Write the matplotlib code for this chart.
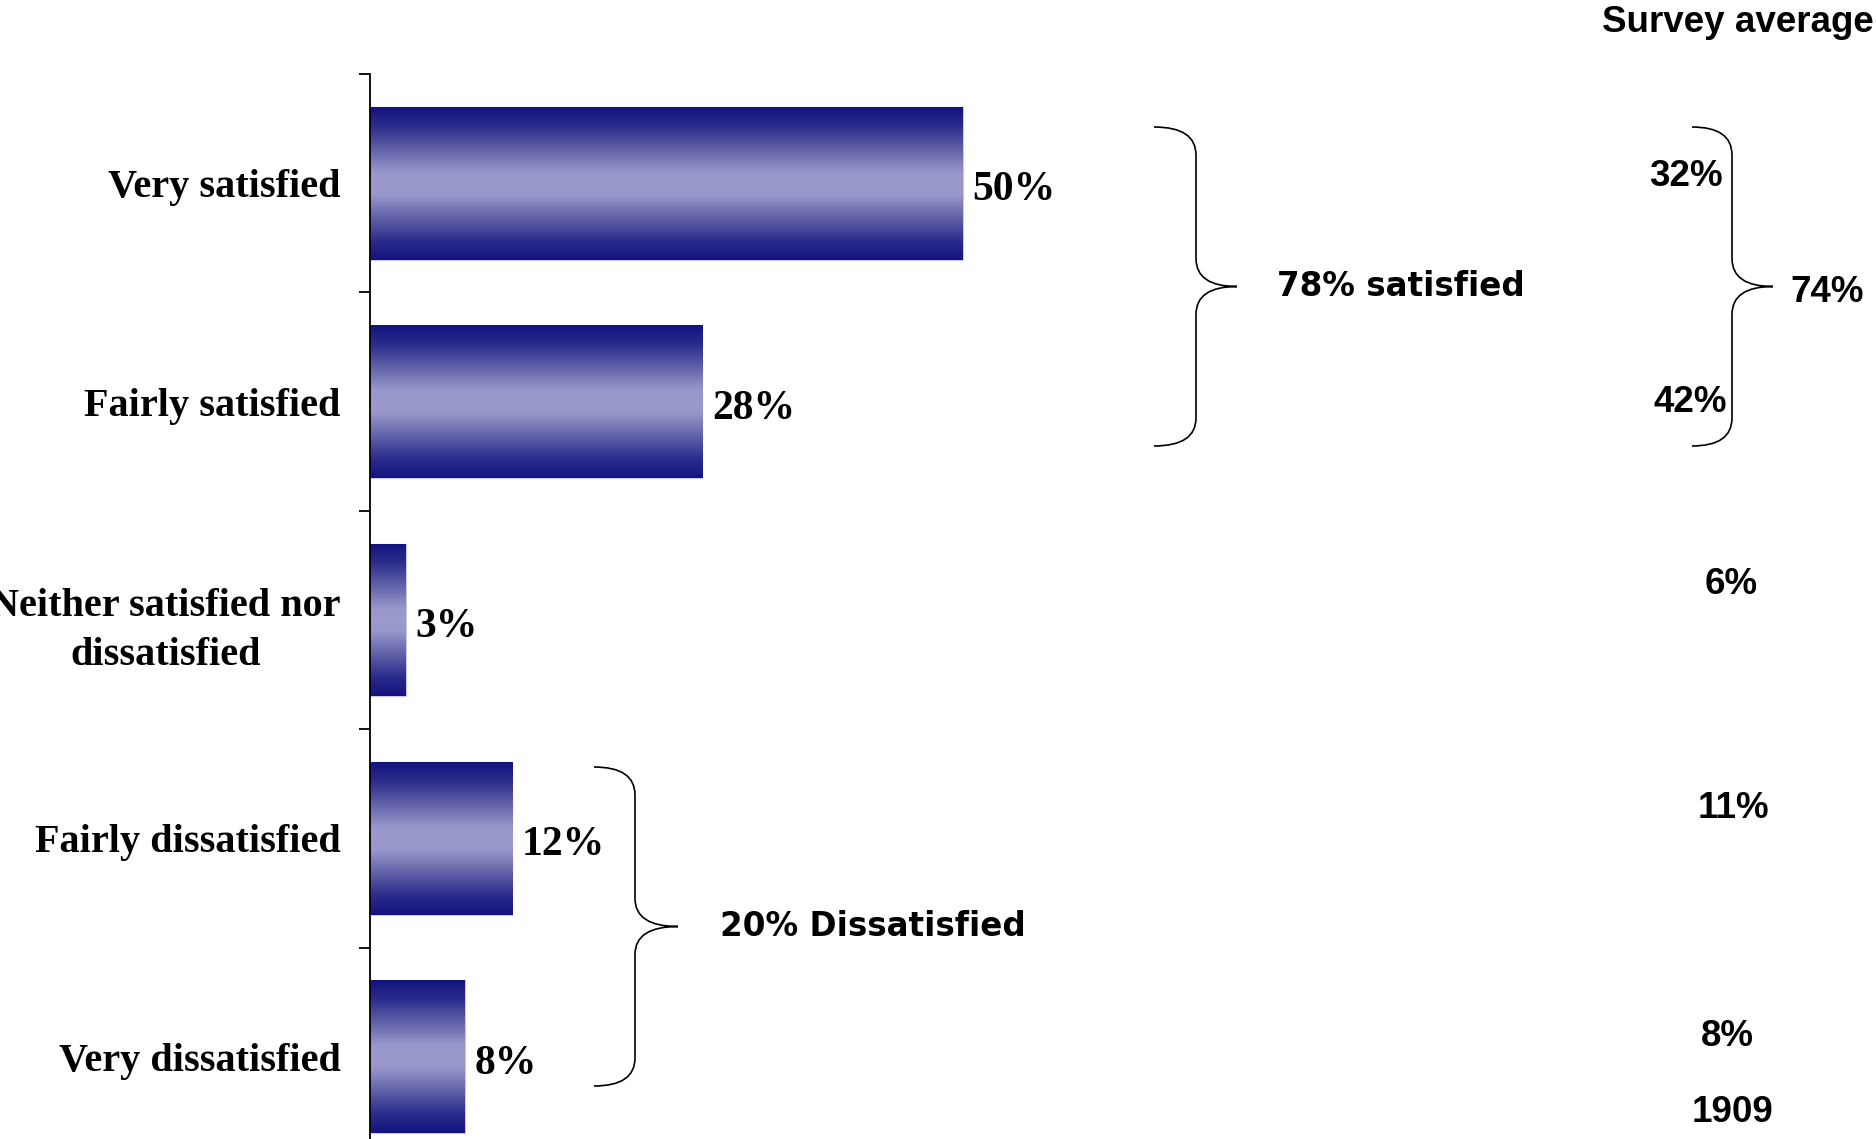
import numpy as np
import matplotlib
matplotlib.use("Agg")
import matplotlib.pyplot as plt
from matplotlib.path import Path
from matplotlib.patches import PathPatch
from matplotlib.colors import LinearSegmentedColormap
import matplotlib.transforms as mtransforms

# ---------------- data ----------------
categories = ["Very satisfied", "Fairly satisfied",
              "Neither satisfied nor\ndissatisfied",
              "Fairly dissatisfied", "Very dissatisfied"]
values = [50, 28, 3, 12, 8]
survey_avg = ["32%", "42%", "6%", "11%", "8%"]
survey_avg_total = "74%"
survey_base = "1909"
satisfied_label = "78% satisfied"
dissatisfied_label = "20% Dissatisfied"
survey_title = "Survey average"

W, H = 1876, 1139
fig = plt.figure(figsize=(W / 100, H / 100), dpi=100)

# pixel (from top-left) -> figure transform
px = mtransforms.Affine2D().scale(1 / W, -1 / H).translate(0, 1) + fig.transFigure

ax_left, ax_top, ax_bot = 370, 74, 1166
ax = fig.add_axes([ax_left / W, 1 - ax_bot / H, (W - ax_left) / W, (ax_bot - ax_top) / H])
px_per_pct = 11.86
ax.set_xlim(0, (W - ax_left) / px_per_pct)
n = len(categories)
ax.set_ylim(n - 0.5, -0.5)

for s in ["top", "right", "bottom"]:
    ax.spines[s].set_visible(False)
ax.spines["left"].set_linewidth(1.3)
ax.set_xticks([])

# boundary ticks (major, no labels) and category labels (minor, no tick marks)
ax.set_yticks(np.arange(-0.5, n + 0.5, 1.0))
ax.set_yticklabels([])
ax.tick_params(axis="y", which="major", length=8, width=1.3, direction="out")
ax.set_yticks(np.arange(n), minor=True)
ax.set_yticklabels(categories, minor=True, fontfamily="Liberation Serif",
                   fontweight="bold", fontsize=29, multialignment="center")
for lab in ax.get_yticklabels(minor=True):
    lab.set_linespacing(1.45)
ax.tick_params(axis="y", which="minor", length=0, pad=21)

# gradient bars
cmap = LinearSegmentedColormap.from_list(
    "barg", [(0.0, "#131380"), (0.12, "#2a2a8c"), (0.3, "#6a6aae"),
             (0.42, "#9696ca"), (0.5, "#9a9acc"), (0.58, "#9696ca"),
             (0.7, "#6a6aae"), (0.88, "#2a2a8c"), (1.0, "#131380")])
grad = np.linspace(0, 1, 256).reshape(-1, 1)
bh = 0.70
bars = ax.barh(np.arange(n), values, height=bh, color="#131380",
               edgecolor="#c8c8e8", linewidth=0.8)
for i, (b, v) in enumerate(zip(bars, values)):
    im = ax.imshow(grad, cmap=cmap, aspect="auto", interpolation="bilinear",
                   extent=(0, v, i + bh / 2, i - bh / 2), zorder=b.get_zorder() + 0.1)
    im.set_clip_path(b)
    ax.annotate(f"{v}%", xy=(v, i), xytext=(7, -5), textcoords="offset points",
                ha="left", va="center", fontfamily="Liberation Serif",
                fontweight="bold", fontsize=30)
ax.set_xlim(0, (W - ax_left) / px_per_pct)
ax.set_ylim(n - 0.5, -0.5)


# curly braces
def brace(x0, x1, x2, ytop, ybot, r=28):
    ymid = (ytop + ybot) / 2
    verts = [(x0, ytop), (x1, ytop), (x1, ytop + r),
             (x1, ymid - r), (x1, ymid), (x2, ymid),
             (x1, ymid), (x1, ymid + r),
             (x1, ybot - r), (x1, ybot), (x0, ybot)]
    codes = [Path.MOVETO, Path.CURVE3, Path.CURVE3,
             Path.LINETO, Path.CURVE3, Path.CURVE3,
             Path.CURVE3, Path.CURVE3,
             Path.LINETO, Path.CURVE3, Path.CURVE3]
    fig.add_artist(PathPatch(Path(verts, codes), transform=px, fill=False,
                             lw=1.2, edgecolor="black"))


brace(1154, 1196, 1237, 127, 446)
brace(1692, 1732, 1773, 127, 446)
brace(594, 635, 678, 767, 1086)

sans = dict(fontfamily="DejaVu Sans", fontweight="bold", fontsize=23.5)
fig.text(1277, 287, satisfied_label, transform=px, ha="left", va="center", **sans)
fig.text(720, 926, dissatisfied_label, transform=px, ha="left", va="center", **sans)

arial = dict(fontfamily="Liberation Sans", fontweight="bold", fontsize=26.5)
fig.text(1874, 22, survey_title, transform=px, ha="right", va="center", **arial)
avg_pos = [(1686, 177), (1690, 403), (1731, 585), (1733, 808), (1727, 1036)]
for (xx, yy), t in zip(avg_pos, survey_avg):
    fig.text(xx, yy, t, transform=px, ha="center", va="center", **arial)
fig.text(1790, 292, survey_avg_total, transform=px, ha="left", va="center", **arial)
fig.text(1733, 1113, survey_base, transform=px, ha="center", va="center", **arial)

fig.savefig("out.png", dpi=100, facecolor="white")
